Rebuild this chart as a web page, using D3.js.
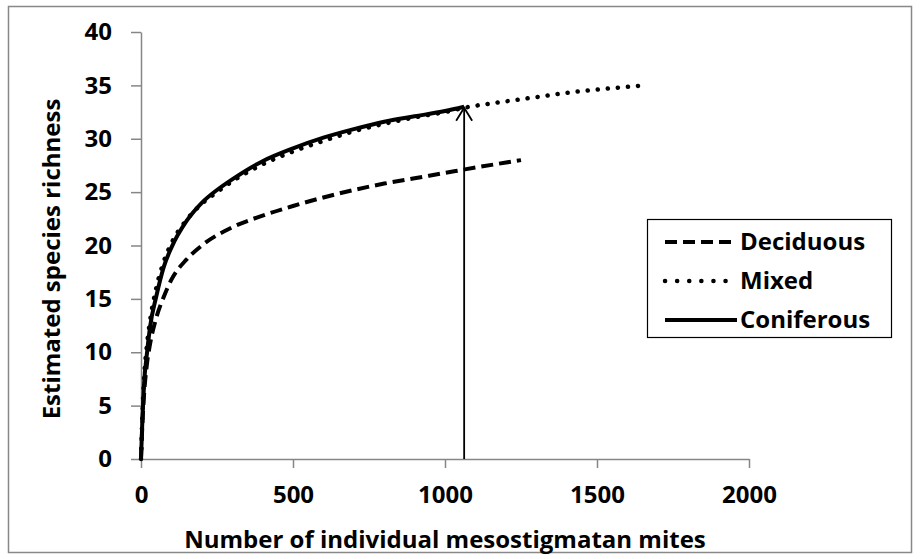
<!DOCTYPE html>
<html>
<head>
<meta charset="utf-8">
<script src="https://cdn.jsdelivr.net/npm/d3@7"></script>
<style>
  body { margin: 0; background: #fff; }
  text { font-family: "Open Sans", Lato, sans-serif; font-weight: bold; fill: #000; }
</style>
</head>
<body>
<div id="chart"></div>
<script>
// Rarefaction curves: estimated richness vs number of mites sampled

var width = 920,
    height = 559,
    margin = { left: 141, right: 171, top: 32, bottom: 100 };

// x values (individuals) and estimated richness, one array per forest type
var deciduousX = [0, 5, 10, 20, 30, 50, 75, 100, 150, 200, 300, 400, 500, 600, 700, 800, 900, 1000, 1100, 1250];
var deciduousY = [0, 3.5, 6, 9, 10.8, 13.2, 15.2, 16.8, 18.7, 20, 21.7, 22.8, 23.7, 24.5, 25.2, 25.8, 26.3, 26.8, 27.3, 28];

var mixedX = [0, 5, 10, 20, 30, 50, 75, 100, 150, 200, 250, 300, 400, 500, 600, 700, 800, 900, 1000, 1063, 1200, 1300, 1400, 1500, 1655];
var mixedY = [0, 4.5, 7.5, 10.8, 13, 16, 18.5, 20.2, 22.4, 23.9, 25, 26, 27.6, 28.8, 29.8, 30.7, 31.4, 32, 32.5, 32.9, 33.5, 33.9, 34.3, 34.6, 35];

var coniferousX = [0, 5, 10, 20, 30, 50, 75, 100, 150, 200, 250, 300, 400, 500, 600, 700, 800, 900, 1000, 1063];
var coniferousY = [0, 4, 7, 10, 12.4, 15.2, 18, 19.8, 22.3, 24, 25.2, 26.2, 27.9, 29.1, 30.1, 30.9, 31.6, 32.1, 32.6, 33];

var seriesNames = ["Deciduous", "Mixed", "Coniferous"];
var xTicks = [0, 500, 1000, 1500, 2000];
var yTicks = [0, 5, 10, 15, 20, 25, 30, 35, 40];

// arrow marking the coniferous sample size
var arrowX = 1063, arrowTop = 33;

var svg = d3.select("#chart").append("svg")
    .attr("width", width)
    .attr("height", height);

// outer chart border
svg.append("rect")
    .attr("x", 8.5).attr("y", 6.5)
    .attr("width", 903).attr("height", 546)
    .attr("fill", "none")
    .attr("stroke", "#888")
    .attr("stroke-width", 1.5);

var x = d3.scaleLinear()
    .domain([0, 2000])
    .range([margin.left, width - margin.right]);

var y = d3.scaleLinear()
    .domain([0, 40])
    .range([height - margin.bottom, margin.top]);

var xAxis = svg.append("g")
    .attr("transform", "translate(0," + y(0) + ")")
    .call(d3.axisBottom(x).tickValues(xTicks).tickFormat(d3.format("d"))
      .tickSize(9).tickSizeOuter(0).tickPadding(18));

var yAxis = svg.append("g")
    .attr("transform", "translate(" + x(0) + ",0)")
    .call(d3.axisLeft(y).tickValues(yTicks).tickSize(10).tickSizeOuter(0).tickPadding(19));

[xAxis, yAxis].forEach(function(a) {
  a.selectAll("path, line").attr("stroke", "#868686").attr("stroke-width", 1.5);
  a.selectAll("text").attr("font-size", 24).attr("font-family", "'Open Sans', sans-serif").attr("font-weight", "bold").attr("fill", "#000");
});

// axis titles
svg.append("text")
    .attr("x", x(1000))
    .attr("y", 548)
    .attr("text-anchor", "middle")
    .attr("font-size", 24)
    .text("Number of individual mesostigmatan mites");

svg.append("text")
    .attr("transform", "translate(60,259) rotate(-90)")
    .attr("text-anchor", "middle")
    .attr("font-size", 24)
    .text("Estimated species richness");

var line = d3.line()
    .x(function(d) { return x(d[0]); })
    .y(function(d) { return y(d[1]); })
    .curve(d3.curveMonotoneX);

var styles = {
  Deciduous: { dash: "12 6", cap: "butt", w: 4 },
  Mixed: { dash: "0.1 10", cap: "round", w: 4.5 },
  Coniferous: { dash: null, cap: "butt", w: 4 }
};

var series = [
  { name: "Deciduous", pts: d3.zip(deciduousX, deciduousY) },
  { name: "Mixed", pts: d3.zip(mixedX, mixedY) },
  { name: "Coniferous", pts: d3.zip(coniferousX, coniferousY) }
];

svg.selectAll("path.curve")
    .data(series)
  .enter().append("path")
    .attr("class", "curve")
    .attr("d", function(d) { return line(d.pts); })
    .attr("fill", "none")
    .attr("stroke", "#000")
    .attr("stroke-width", function(d) { return styles[d.name].w; })
    .attr("stroke-linecap", function(d) { return styles[d.name].cap; })
    .attr("stroke-dasharray", function(d) { return styles[d.name].dash; });

// arrow
var ax = x(arrowX);
svg.append("line")
    .attr("x1", ax).attr("x2", ax)
    .attr("y1", y(0)).attr("y2", y(arrowTop) + 1)
    .attr("stroke", "#000").attr("stroke-width", 1.8);
svg.append("path")
    .attr("d", "M" + (ax - 8) + "," + (y(arrowTop) + 14) + "L" + ax + "," + (y(arrowTop) + 1) + "L" + (ax + 8) + "," + (y(arrowTop) + 14))
    .attr("fill", "none").attr("stroke", "#000").attr("stroke-width", 1.8);

// legend
var legend = svg.append("g");
legend.append("rect")
    .attr("x", 647.5).attr("y", 219.5)
    .attr("width", 244).attr("height", 118)
    .attr("fill", "#fff")
    .attr("stroke", "#000")
    .attr("stroke-width", 1.2);

var rowY = d3.scalePoint().domain(seriesNames).range([242, 320]);

var rows = legend.selectAll("g.row")
    .data(seriesNames)
  .enter().append("g")
    .attr("class", "row")
    .attr("transform", function(d) { return "translate(0," + rowY(d) + ")"; });

rows.append("line")
    .attr("x1", 665).attr("x2", 737)
    .attr("stroke", "#000")
    .attr("stroke-width", function(d) { return styles[d].w; })
    .attr("stroke-linecap", function(d) { return styles[d].cap; })
    .attr("stroke-dasharray", function(d) { return d === "Mixed" ? "0.1 12" : styles[d].dash; });

rows.append("text")
    .attr("x", 740)
    .attr("dy", "0.35em")
    .attr("font-size", 24)
    .text(function(d) { return d; });
</script>
</body>
</html>
